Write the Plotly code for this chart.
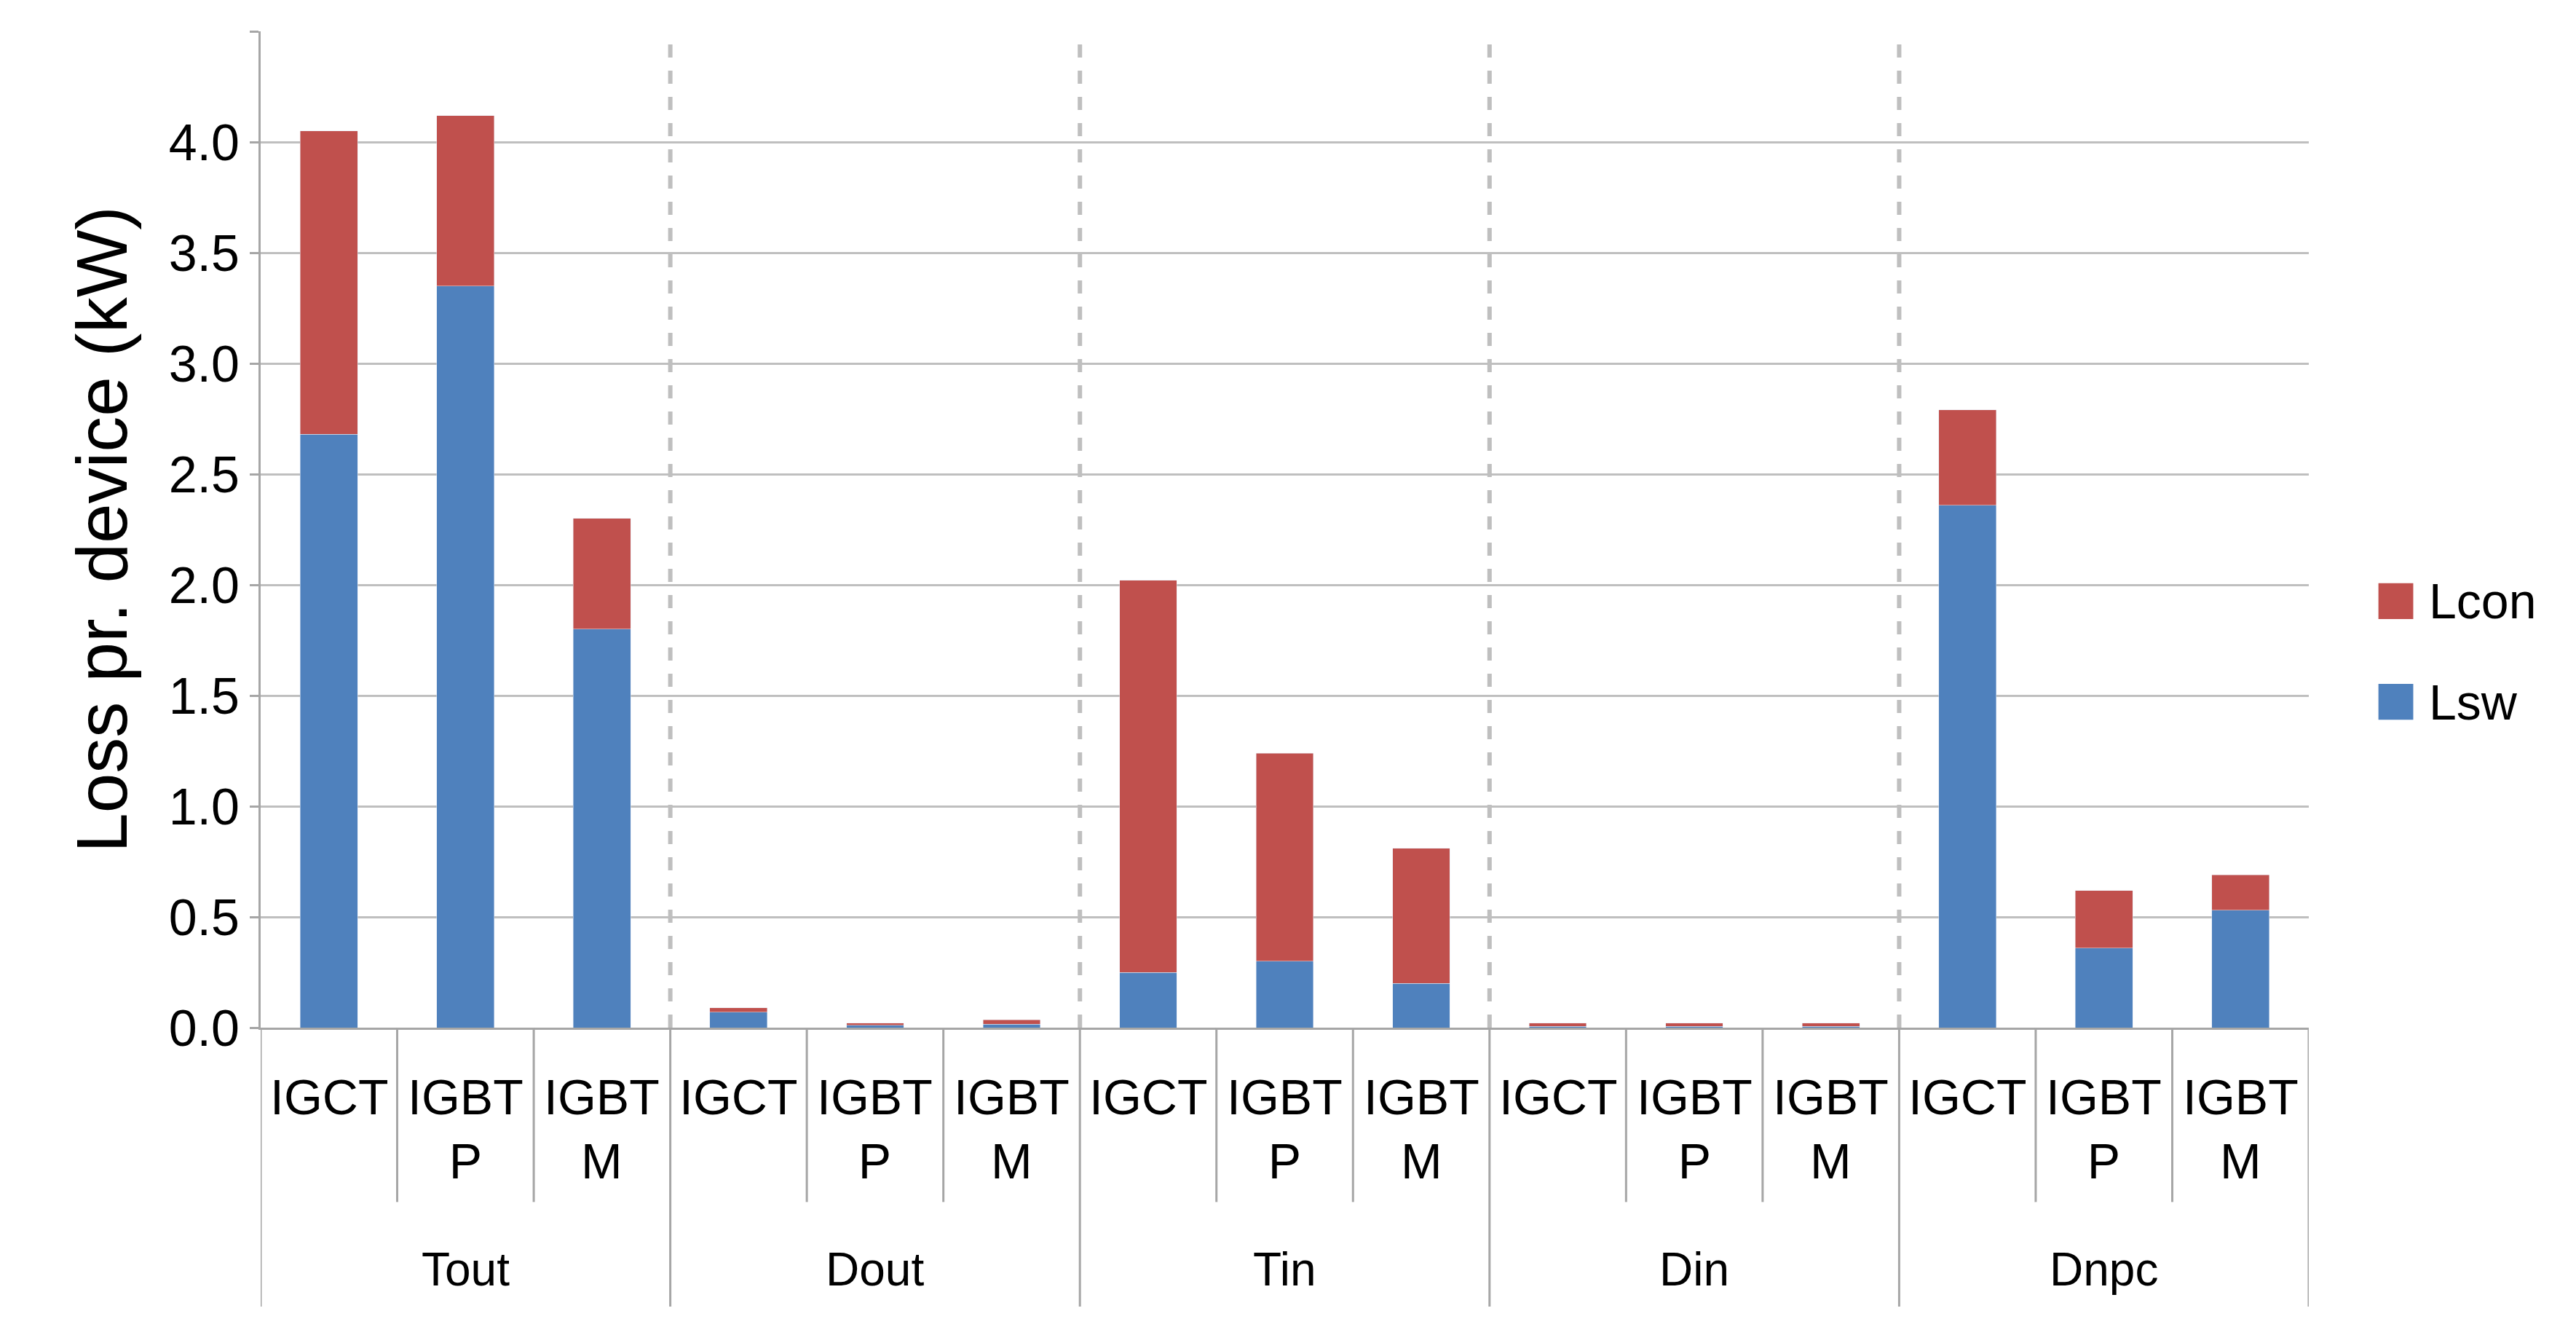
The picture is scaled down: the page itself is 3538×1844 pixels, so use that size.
import plotly.graph_objects as go

groups = ["Tout", "Dout", "Tin", "Din", "Dnpc"]
devices = ["IGCT", "IGBT<br>P", "IGBT<br>M"]
lsw = [2.68, 3.35, 1.80, 0.07, 0.01, 0.015, 0.25, 0.30, 0.20, 0.005, 0.005, 0.005, 2.36, 0.36, 0.53]
lcon = [1.37, 0.77, 0.50, 0.02, 0.01, 0.02, 1.77, 0.94, 0.61, 0.015, 0.015, 0.015, 0.43, 0.26, 0.16]
yticks = [0.0, 0.5, 1.0, 1.5, 2.0, 2.5, 3.0, 3.5, 4.0, 4.5]
series_names = ["Lcon", "Lsw"]
series_colors = ["#C0504D", "#4F81BD"]

n = len(lsw)
xs = list(range(n))
FONT = "Liberation Sans"
fig = go.Figure()
fig.add_bar(x=xs, y=lsw, name="Lsw", marker_color="#4F81BD", width=0.42, showlegend=False)
fig.add_bar(x=xs, y=lcon, name="Lcon", marker_color="#C0504D", width=0.42, showlegend=False)

grey = "#A6A6A6"
shapes = []
ann = []
ng = len(devices)
for gi, g in enumerate(groups):
    for di, d in enumerate(devices):
        i = gi * ng + di
        ann.append(dict(x=i, y=-0.04, xref="x", yref="paper", text=d, showarrow=False,
                        yanchor="top", font=dict(size=68, family=FONT, color="#000"), align="center"))
        if di > 0:
            shapes.append(dict(type="line", xref="x", yref="paper", x0=i - 0.5, x1=i - 0.5,
                               y0=0, y1=-0.175, line=dict(color=grey, width=3)))
    c = gi * ng + (ng - 1) / 2
    ann.append(dict(x=c, y=-0.215, xref="x", yref="paper", text=g, showarrow=False,
                    yanchor="top", font=dict(size=64, family=FONT, color="#000")))
for b in range(len(groups) + 1):
    xb = b * ng - 0.5
    shapes.append(dict(type="line", xref="x", yref="paper", x0=xb, x1=xb, y0=0, y1=-0.28,
                       line=dict(color=grey, width=3)))
    if 0 < b < len(groups):
        shapes.append(dict(type="line", xref="x", yref="paper", x0=xb, x1=xb, y0=0, y1=1,
                           line=dict(color="#BFBFBF", width=6, dash="dash")))

# custom legend
for k, (nm, col) in enumerate(zip(series_names, series_colors)):
    yc = 0.428 - k * 0.101
    shapes.append(dict(type="rect", xref="paper", yref="paper", x0=1.034, x1=1.051,
                       y0=yc - 0.018, y1=yc + 0.018, fillcolor=col, line=dict(width=0)))
    ann.append(dict(x=1.058, y=yc, xref="paper", yref="paper", text=nm, showarrow=False,
                    xanchor="left", yanchor="middle", font=dict(size=68, family=FONT, color="#000")))

fig.update_layout(
    width=3538, height=1844, barmode="stack",
    plot_bgcolor="white", paper_bgcolor="white",
    margin=dict(l=350, r=375, t=35, b=441),
    font=dict(family=FONT, color="#000"),
    showlegend=False,
    xaxis=dict(range=[-0.5, n - 0.5], showticklabels=False, showgrid=False, zeroline=False,
               showline=True, linecolor=grey, linewidth=3),
    yaxis=dict(range=[0, 4.5], tickvals=yticks, tickformat=".1f", tickfont=dict(size=70),
               showgrid=True, gridcolor="#BFBFBF", gridwidth=3, zeroline=False,
               showline=True, linecolor=grey, linewidth=3, ticks="outside", ticklen=12,
               tickcolor=grey, tickwidth=3,
               title=dict(text="Loss pr. device (kW)", font=dict(size=98), standoff=25)),
    shapes=shapes, annotations=ann,
)
fig.write_html("out.html")
